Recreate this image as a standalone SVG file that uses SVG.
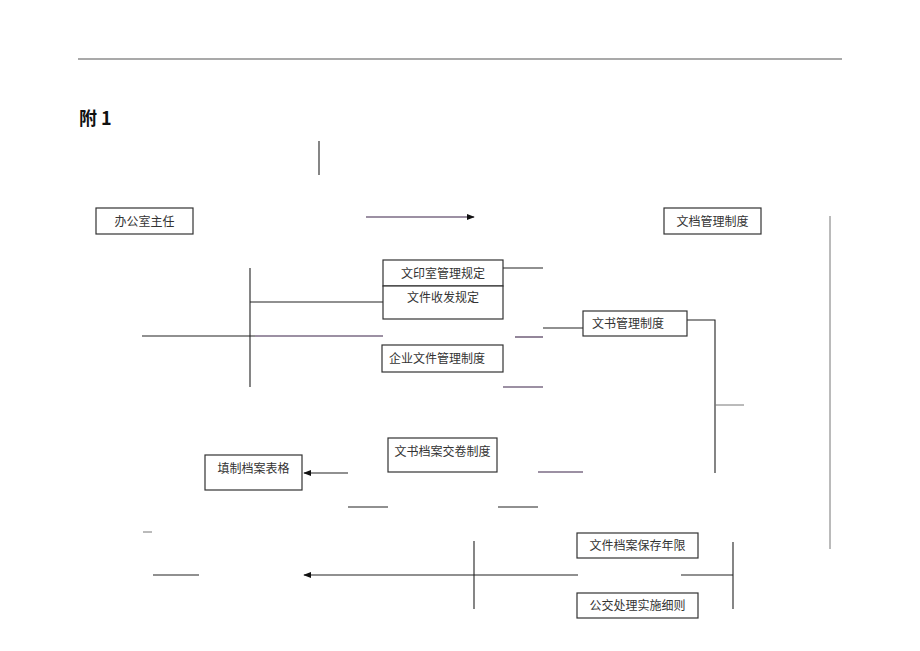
<svg xmlns="http://www.w3.org/2000/svg" width="920" height="651" viewBox="0 0 920 651">
<defs>
<style>
.box{fill:#fff;stroke:#333;stroke-width:1.2}
.t{font-family:"Noto Sans CJK SC","Liberation Sans",sans-serif;font-size:12px;fill:#333}
.ln{stroke:#222;stroke-width:1.1;fill:none}
.lp{stroke:#3b2348;stroke-width:1.1;fill:none}
.lg{stroke:#777;stroke-width:1;fill:none}
</style>
<marker id="ah" viewBox="0 0 10 10" refX="9" refY="5" markerWidth="8" markerHeight="8" orient="auto-start-reverse" markerUnits="userSpaceOnUse">
<path d="M0,1 L10,5 L0,9 z" fill="#111"/>
</marker>
</defs>
<rect width="920" height="651" fill="#fff"/>
<line x1="78" y1="59" x2="842" y2="59" stroke="#555" stroke-width="1.2"/>
<text x="79" y="125" font-family="'Noto Sans CJK SC','Liberation Sans',sans-serif" font-size="18" font-weight="bold" fill="#111">附 1</text>

<g id="connectors">
<line class="ln" x1="319" y1="141" x2="319" y2="175"/>
<line class="lp" x1="366" y1="217" x2="474" y2="217" marker-end="url(#ah)"/>
<line class="lg" x1="830" y1="216" x2="830" y2="549"/>
<line class="ln" x1="250" y1="268" x2="250" y2="387"/>
<line class="ln" x1="250" y1="302" x2="383" y2="302"/>
<line class="ln" x1="142" y1="336" x2="255" y2="336"/>
<line class="lp" x1="255" y1="336" x2="383" y2="336"/>
<line class="ln" x1="503" y1="268" x2="543" y2="268"/>
<line class="lp" x1="515" y1="337" x2="543" y2="337"/>
<line class="ln" x1="543" y1="328" x2="583" y2="328"/>
<polyline class="ln" points="687,320 715,320 715,473"/>
<line class="lg" x1="715" y1="405" x2="744" y2="405"/>
<line class="lp" x1="503" y1="387" x2="543" y2="387"/>
<line class="lp" x1="538" y1="472" x2="583" y2="472"/>
<line class="ln" x1="348" y1="473" x2="304" y2="473" marker-end="url(#ah)"/>
<line class="ln" x1="348" y1="507" x2="388" y2="507"/>
<line class="ln" x1="498" y1="507" x2="538" y2="507"/>
<line class="lg" x1="143" y1="532" x2="152" y2="532"/>
<line class="ln" x1="153" y1="575" x2="199" y2="575"/>
<line class="ln" x1="578" y1="575" x2="304" y2="575" marker-end="url(#ah)"/>
<line class="ln" x1="474" y1="541" x2="474" y2="609"/>
<line class="ln" x1="681" y1="575" x2="733" y2="575"/>
<line class="ln" x1="733" y1="542" x2="733" y2="609"/>
</g>

<g id="n_office"><rect class="box" x="96" y="208" width="97" height="26"/><text class="t" x="144.5" y="225.5" text-anchor="middle">办公室主任</text></g>
<g id="n_archive"><rect class="box" x="664" y="208" width="97" height="26"/><text class="t" x="712.5" y="225.5" text-anchor="middle">文档管理制度</text></g>
<g id="n_print"><rect class="box" x="383" y="260" width="120" height="26"/><text class="t" x="443" y="277.5" text-anchor="middle">文印室管理规定</text></g>
<g id="n_recv"><rect class="box" x="383" y="286" width="120" height="33"/><text class="t" x="443" y="302" text-anchor="middle">文件收发规定</text></g>
<g id="n_doc"><rect class="box" x="583" y="311" width="104" height="25"/><text class="t" x="592" y="328">文书管理制度</text></g>
<g id="n_corp"><rect class="box" x="382" y="345" width="121" height="27"/><text class="t" x="389" y="363">企业文件管理制度</text></g>
<g id="n_hand"><rect class="box" x="388" y="438" width="109" height="34"/><text class="t" x="442.5" y="456" text-anchor="middle">文书档案交卷制度</text></g>
<g id="n_form"><rect class="box" x="205" y="455" width="97" height="35"/><text class="t" x="253.5" y="473" text-anchor="middle">填制档案表格</text></g>
<g id="n_keep"><rect class="box" x="577" y="533" width="121" height="25"/><text class="t" x="637.5" y="550" text-anchor="middle">文件档案保存年限</text></g>
<g id="n_proc"><rect class="box" x="577" y="593" width="121" height="25"/><text class="t" x="637.5" y="610" text-anchor="middle">公交处理实施细则</text></g>
</svg>
